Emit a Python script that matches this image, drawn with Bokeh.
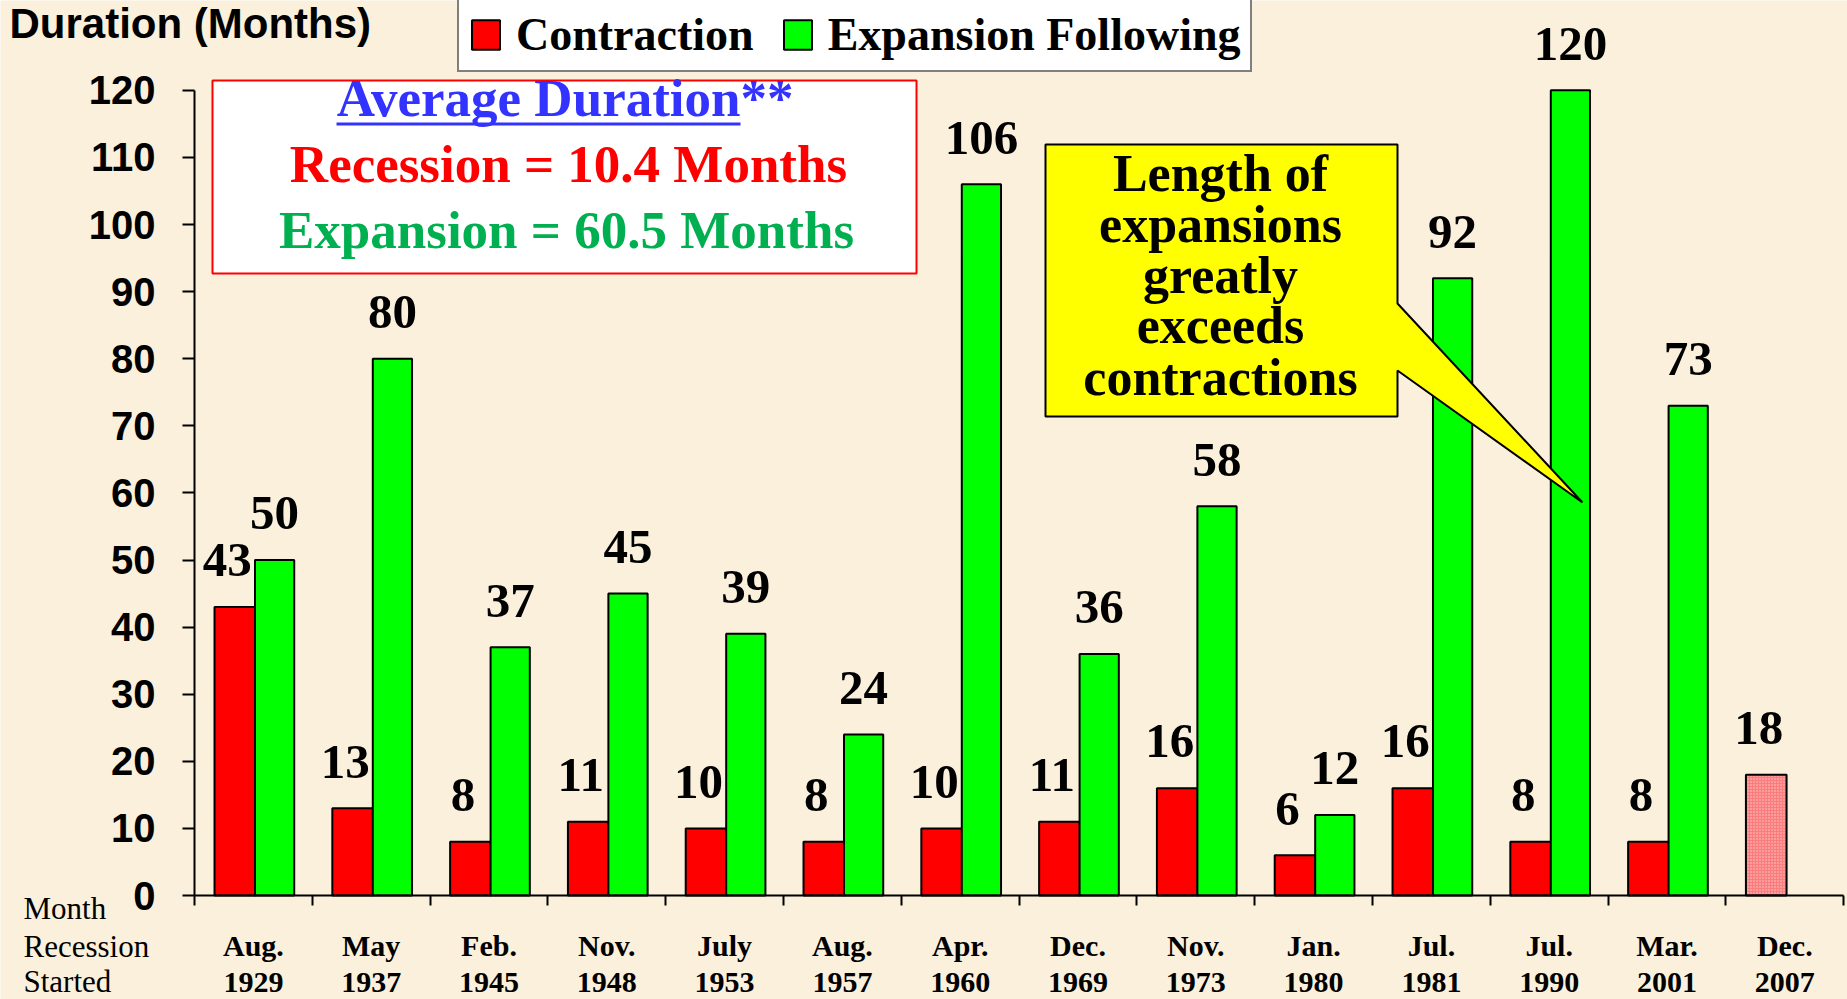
from bokeh.plotting import figure
from bokeh.models import (Range1d, FixedTicker, LinearAxis, Legend, LegendItem, Label,
                          BoxAnnotation, PolyAnnotation, ColumnDataSource)
from bokeh.embed import file_html
from bokeh.resources import INLINE
from bokeh.core.properties import value

# ---------------- data ----------------
months = ["Aug.", "May", "Feb.", "Nov.", "July", "Aug.", "Apr.", "Dec.", "Nov.", "Jan.",
          "Jul.", "Jul.", "Mar.", "Dec."]
years = ["1929", "1937", "1945", "1948", "1953", "1957", "1960", "1969", "1973", "1980",
         "1981", "1990", "2001", "2007"]
contraction = [43, 13, 8, 11, 10, 8, 10, 11, 16, 6, 16, 8, 8]
expansion = [50, 80, 37, 45, 39, 24, 106, 36, 58, 12, 92, 120, 73]
current_contraction = [18]          # Dec. 2007 recession (hatched)
avg_recession = 10.4
avg_expansion = 60.5
y_ticks = list(range(0, 121, 10))
callout_lines = ["Length of", "expansions", "greatly", "exceeds", "contractions"]

BG = "#FAF0DC"
SERIF = "Liberation Serif"
SANS = "Liberation Sans"

# ---------------- canvas / scale geometry ----------------
W, H = 1847, 999
X0, CAT = 194, 117.8      # left end of category axis (px), px per category
Y0, PPU = 895, 6.71       # baseline (px from top), px per month


def dx(px):   # screen x -> data x
    return (px - X0) / CAT - 0.5


def dy(py):   # screen y -> data y
    return (Y0 - py) / PPU


def ty(baseline_px, fs):  # text centre (middle baseline) for a wanted alphabetic baseline
    return dy(baseline_px - 0.34 * fs)


p = figure(width=W, height=H, output_backend="svg", toolbar_location=None,
           x_range=Range1d(dx(0), dx(W)), y_range=Range1d(dy(H), dy(0)),
           x_axis_location=None, y_axis_location=None,
           min_border_left=0, min_border_right=0, min_border_top=0, min_border_bottom=0)
p.background_fill_color = BG
p.border_fill_color = BG
p.outline_line_color = None
p.grid.visible = False

# ---------------- bars ----------------
n = len(contraction)
src_c = ColumnDataSource(dict(x=[i - 0.1575 for i in range(n)], top=contraction,
                              lbl=[str(v) for v in contraction]))
src_e = ColumnDataSource(dict(x=[i + 0.18 for i in range(n)], top=expansion,
                              lbl=[str(v) for v in expansion]))
src_cur = ColumnDataSource(dict(x=[n - 0.1575], top=current_contraction,
                                lbl=[str(v) for v in current_contraction]))

r_c = p.vbar(x="x", top="top", bottom=0, width=0.345, source=src_c,
             fill_color="#FF0000", line_color="black", line_width=2)
r_e = p.vbar(x="x", top="top", bottom=0, width=0.333, source=src_e,
             fill_color="#00FF00", line_color="black", line_width=2)
p.vbar(x="x", top="top", bottom=0, width=0.345, source=src_cur,
       fill_color="#FA7C7C", hatch_pattern="dot", hatch_color="#FFD0D0", hatch_scale=3,
       hatch_weight=1.5, line_color="black", line_width=2)

VFS = 49
lab_kw = dict(text="lbl", text_font=value(SERIF), text_font_style="bold",
              text_font_size=f"{VFS}px", text_align="center", text_baseline="middle",
              text_color="black", y_offset=-(30 + 0.34 * VFS))
p.text(x="x", y="top", source=src_c, x_offset=-7.5, **lab_kw)
p.text(x="x", y="top", source=src_e, **lab_kw)
p.text(x="x", y="top", source=src_cur, x_offset=-7.5, **lab_kw)

# ---------------- axes (fixed inside the canvas) ----------------
yaxis = LinearAxis(ticker=FixedTicker(ticks=y_ticks, minor_ticks=[]), bounds=(0, 120),
                   fixed_location=-0.5,
                   axis_line_width=2, axis_line_color="black",
                   major_tick_out=12, major_tick_in=0, major_tick_line_width=2,
                   minor_tick_out=0, minor_tick_in=0,
                   major_label_standoff=27, major_label_text_font=SANS,
                   major_label_text_font_style="bold", major_label_text_font_size="40px",
                   major_label_text_color="black")
p.add_layout(yaxis, "left")

xaxis = LinearAxis(ticker=FixedTicker(ticks=list(range(14)),
                                      minor_ticks=[i - 0.5 for i in range(15)]),
                   major_label_overrides={i: f"{m}\n{y}" for i, (m, y) in enumerate(zip(months, years))},
                   bounds=(-0.5, 13.5), fixed_location=0,
                   axis_line_width=2, axis_line_color="black",
                   major_tick_out=0, major_tick_in=0,
                   minor_tick_out=10, minor_tick_in=0, minor_tick_line_width=2,
                   minor_tick_line_color="black",
                   major_label_standoff=23, major_label_text_font=SERIF,
                   major_label_text_font_style="bold", major_label_text_font_size="30px",
                   major_label_text_line_height=1.12, major_label_text_color="black")
p.add_layout(xaxis, "below")

# ---------------- legend ----------------
legend = Legend(items=[LegendItem(label="Contraction", renderers=[r_c]),
                       LegendItem(label="Expansion Following", renderers=[r_e])],
                orientation="horizontal", location=(457, H - 72),
                label_text_font=SERIF, label_text_font_style="bold",
                label_text_font_size="46px", label_text_color="black",
                glyph_width=35, glyph_height=37, label_standoff=13, spacing=26,
                padding=9, margin=0, border_line_color="black", border_line_width=2,
                background_fill_color="white", background_fill_alpha=1.0)
p.add_layout(legend, "center")

# ---------------- texts ----------------
p.add_layout(Label(x=dx(9), y=ty(37, 42), text="Duration (Months)", text_font=SANS,
                   text_font_style="bold", text_font_size="42px", text_color="black",
                   text_align="left", text_baseline="middle"))

for txt, yy in zip(["Month", "Recession", "Started"], [919, 957, 992]):
    p.add_layout(Label(x=dx(23), y=ty(yy, 31), text=txt, text_font=SERIF, text_font_size="31px",
                       text_color="black", text_align="left", text_baseline="middle"))

# average-duration box
p.add_layout(BoxAnnotation(left=dx(212), right=dx(916), bottom=dy(273), top=dy(80),
                           fill_color="white", fill_alpha=1.0,
                           line_color="#FF0000", line_alpha=1.0, line_width=2,
                           level="annotation"))
AFS = 53
p.add_layout(Label(x=dx(740), y=ty(116, AFS), text="Average Duration", text_font=SERIF,
                   text_font_style="bold", text_font_size=f"{AFS}px", text_color="#3333FF",
                   text_align="right", text_baseline="middle"))
p.add_layout(Label(x=dx(740), y=ty(116, AFS), text="**", text_font=SERIF,
                   text_font_style="bold", text_font_size=f"{AFS}px", text_color="#3333FF",
                   text_align="left", text_baseline="middle"))
p.add_layout(BoxAnnotation(left=dx(336), right=dx(740), bottom=dy(125), top=dy(122),
                           fill_color="#3333FF", fill_alpha=1.0, line_color=None,
                           level="annotation"))
p.add_layout(Label(x=dx(568), y=ty(182, AFS), text=f"Recession = {avg_recession} Months",
                   text_font=SERIF, text_font_style="bold", text_font_size=f"{AFS}px",
                   text_color="#FF0000", text_align="center", text_baseline="middle"))
p.add_layout(Label(x=dx(566), y=ty(248, AFS), text=f"Expansion = {avg_expansion} Months",
                   text_font=SERIF, text_font_style="bold", text_font_size=f"{AFS}px",
                   text_color="#00B050", text_align="center", text_baseline="middle"))

# callout
cx = [1045, 1397, 1397, 1582, 1397, 1397, 1045]
cy = [144, 144, 303, 502, 370, 416, 416]
p.add_layout(PolyAnnotation(xs=[dx(v) for v in cx], ys=[dy(v) for v in cy],
                            fill_color="#FFFF00", fill_alpha=1.0,
                            line_color="black", line_alpha=1.0, line_width=2,
                            level="annotation"))
CFS = 52
for txt, yy in zip(callout_lines, [191, 242, 293, 343, 395]):
    p.add_layout(Label(x=dx(1220), y=ty(yy, CFS), text=txt, text_font=SERIF,
                       text_font_style="bold", text_font_size=f"{CFS}px", text_color="black",
                       text_align="center", text_baseline="middle"))

open("out.html", "w").write(file_html(p, INLINE))
